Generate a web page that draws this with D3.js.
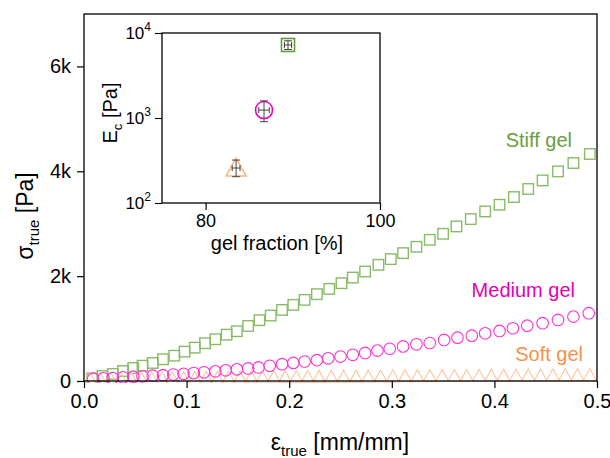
<!DOCTYPE html>
<html>
<head>
<meta charset="utf-8">
<script src="https://cdn.jsdelivr.net/npm/d3@7"></script>
<style>
  body { margin: 0; background: #fff; }
  svg { display: block; }
  text { font-family: "Liberation Sans", Arial, sans-serif; }
</style>
</head>
<body>
<svg id="chart" width="610" height="458"></svg>
<script>
// main plot: true stress vs true strain
const stiffStrain = [0.008, 0.018, 0.028, 0.038, 0.048, 0.057, 0.067, 0.077, 0.088, 0.098, 0.108, 0.118, 0.128, 0.139, 0.149, 0.160, 0.171, 0.182, 0.193, 0.204, 0.215, 0.227, 0.239, 0.251, 0.262, 0.274, 0.287, 0.299, 0.311, 0.324, 0.337, 0.350, 0.363, 0.377, 0.391, 0.405, 0.419, 0.433, 0.447, 0.462, 0.477, 0.493];
const stiffStress = [50, 95, 134, 191, 248, 292, 344, 414, 483, 560, 636, 720, 796, 884, 949, 1050, 1160, 1248, 1356, 1452, 1547, 1656, 1757, 1866, 1973, 2088, 2216, 2324, 2439, 2560, 2693, 2808, 2948, 3088, 3234, 3362, 3509, 3662, 3826, 3998, 4158, 4330];

const mediumStrain = [0.009, 0.019, 0.028, 0.038, 0.048, 0.057, 0.067, 0.077, 0.087, 0.097, 0.107, 0.117, 0.128, 0.138, 0.149, 0.160, 0.170, 0.181, 0.193, 0.204, 0.215, 0.227, 0.238, 0.250, 0.262, 0.274, 0.286, 0.298, 0.311, 0.324, 0.337, 0.351, 0.364, 0.378, 0.391, 0.405, 0.418, 0.432, 0.447, 0.462, 0.477, 0.492];
const mediumStress = [44, 52, 57, 70, 82, 90, 101, 112, 124, 136, 152, 166, 184, 203, 222, 240, 258, 290, 320, 345, 372, 398, 433, 466, 500, 535, 580, 615, 660, 700, 725, 783, 827, 865, 911, 955, 1006, 1056, 1102, 1165, 1228, 1293];

const softStrain = [0.006, 0.016, 0.026, 0.036, 0.046, 0.056, 0.066, 0.076, 0.086, 0.097, 0.108, 0.119, 0.130, 0.141, 0.152, 0.163, 0.174, 0.185, 0.196, 0.207, 0.218, 0.229, 0.241, 0.253, 0.265, 0.277, 0.289, 0.301, 0.313, 0.325, 0.337, 0.349, 0.361, 0.373, 0.385, 0.397, 0.409, 0.421, 0.433, 0.445, 0.457, 0.469, 0.481, 0.493];
const softStress = [45, 48, 50, 53, 55, 57, 60, 62, 64, 66, 68, 70, 72, 74, 76, 78, 80, 82, 83, 85, 87, 88, 90, 92, 93, 95, 97, 98, 100, 101, 103, 104, 106, 107, 109, 110, 112, 113, 115, 116, 118, 119, 121, 122];

const xTicks = [0, 0.1, 0.2, 0.3, 0.4, 0.5];
const xTickLabels = ["0.0", "0.1", "0.2", "0.3", "0.4", "0.5"];
const yTicks = [0, 2000, 4000, 6000];
const yTickLabels = ["0", "2k", "4k", "6k"];

// inset: compressive modulus vs gel fraction
const insetNames = ["Soft gel", "Medium gel", "Stiff gel"];
const gelFraction = [83.5, 86.7, 89.45];
const gelFractionErr = [0.45, 0.6, 0.4];
const modulus = [258, 1240, 7230];
const modulusLow = [204, 905, 6400];
const modulusHigh = [320, 1590, 8100];

const colors = {
  stiff: "#89bb66", stiffText: "#6a9e3f",
  medium: "#ff33d2", mediumText: "#e800b4",
  soft: "#ffc49c", softText: "#f7904a"
};

const svg = d3.select("#chart");
const M = { left: 84, right: 597, top: 14, bottom: 381 };

const x = d3.scaleLinear().domain([0, 0.5]).range([M.left, M.right]);
const y = d3.scaleLinear().domain([0, 7000]).range([M.bottom, M.top]);

// clip for data
svg.append("defs").append("clipPath").attr("id", "clip")
  .append("rect").attr("x", M.left).attr("y", M.top - 10)
  .attr("width", M.right - M.left + 2).attr("height", M.bottom - M.top + 12);

const data = g => g.attr("clip-path", "url(#clip)");

// stiff squares
const sq = 10.5;
svg.append("g").call(data).selectAll("rect")
  .data(d3.zip(stiffStrain, stiffStress))
  .enter().append("rect")
  .attr("x", d => x(d[0]) - sq / 2)
  .attr("y", d => y(d[1]) - sq / 2)
  .attr("width", sq).attr("height", sq)
  .attr("fill", "none")
  .attr("stroke", colors.stiff)
  .attr("stroke-width", 1.4);

// soft triangles
const tw = 13, th = 12;
svg.append("g").call(data).selectAll("path")
  .data(d3.zip(softStrain, softStress))
  .enter().append("path")
  .attr("d", d => {
    const cx = x(d[0]), cy = y(d[1]);
    return `M${cx},${cy - th / 2}L${cx + tw / 2},${cy + th / 2}L${cx - tw / 2},${cy + th / 2}Z`;
  })
  .attr("fill", "none")
  .attr("stroke", colors.soft)
  .attr("stroke-width", 1.1);

// medium circles
svg.append("g").call(data).selectAll("circle")
  .data(d3.zip(mediumStrain, mediumStress))
  .enter().append("circle")
  .attr("cx", d => x(d[0]))
  .attr("cy", d => y(d[1]))
  .attr("r", 5.8)
  .attr("fill", "none")
  .attr("stroke", colors.medium)
  .attr("stroke-width", 1.1);

// frame
svg.append("rect")
  .attr("x", M.left).attr("y", M.top)
  .attr("width", M.right - M.left).attr("height", M.bottom - M.top)
  .attr("fill", "none").attr("stroke", "#000").attr("stroke-width", 1.3);

// axes
const xAxis = svg.append("g").attr("transform", `translate(0,${M.bottom})`);
xAxis.call(d3.axisBottom(x).tickValues(d3.range(0, 0.501, 0.05)).tickSize(4).tickFormat(""));
xAxis.call(d3.axisBottom(x).tickValues(xTicks).tickSize(7)
  .tickFormat((d, i) => xTickLabels[i]).tickPadding(6));
xAxis.selectAll(".domain").remove();
xAxis.selectAll("line").attr("stroke", "#000").attr("stroke-width", 1.2);
xAxis.selectAll("text").attr("font-size", 20).attr("fill", "#000")
  .attr("font-family", "Liberation Sans, Arial, sans-serif");

const yAxis = svg.append("g").attr("transform", `translate(${M.left},0)`);
yAxis.call(d3.axisLeft(y).tickValues(d3.range(0, 7001, 500)).tickSize(4).tickFormat(""));
yAxis.call(d3.axisLeft(y).tickValues(yTicks).tickSize(7)
  .tickFormat((d, i) => yTickLabels[i]).tickPadding(6));
yAxis.selectAll(".domain").remove();
yAxis.selectAll("line").attr("stroke", "#000").attr("stroke-width", 1.2);
yAxis.selectAll("text").attr("font-size", 20).attr("fill", "#000")
  .attr("font-family", "Liberation Sans, Arial, sans-serif");

// axis titles
const xt = svg.append("text").attr("x", 340).attr("y", 450)
  .attr("text-anchor", "middle").attr("font-size", 23);
xt.append("tspan").text("ε");
xt.append("tspan").attr("font-size", 15).attr("dy", 6).text("true");
xt.append("tspan").attr("dy", -6).text(" [mm/mm]");

const yt = svg.append("text").attr("transform", "translate(33,216) rotate(-90)")
  .attr("text-anchor", "middle").attr("font-size", 23);
yt.append("tspan").text("σ");
yt.append("tspan").attr("font-size", 15).attr("dy", 6).text("true");
yt.append("tspan").attr("dy", -6).text(" [Pa]");

// series labels
svg.append("text").attr("x", 572).attr("y", 147).attr("text-anchor", "end")
  .attr("font-size", 20).attr("fill", colors.stiffText).text("Stiff gel");
svg.append("text").attr("x", 575).attr("y", 297).attr("text-anchor", "end")
  .attr("font-size", 20).attr("fill", colors.mediumText).text("Medium gel");
svg.append("text").attr("x", 583).attr("y", 361).attr("text-anchor", "end")
  .attr("font-size", 20).attr("fill", colors.softText).text("Soft gel");

// ---- inset ----
const I = { left: 162, right: 380, top: 33, bottom: 203 };
const ix = d3.scaleLinear().domain([75, 100]).range([I.left, I.right]);
const iy = d3.scaleLog().domain([100, 10000]).range([I.bottom, I.top]);

const inset = svg.append("g");
inset.append("rect")
  .attr("x", I.left).attr("y", I.top)
  .attr("width", I.right - I.left).attr("height", I.bottom - I.top)
  .attr("fill", "#fff").attr("stroke", "#000").attr("stroke-width", 1.3);

const ixAxis = inset.append("g").attr("transform", `translate(0,${I.bottom})`);
ixAxis.call(d3.axisBottom(ix).tickValues([90]).tickSize(5).tickFormat(""));
ixAxis.call(d3.axisBottom(ix).tickValues([80, 100]).tickSize(7).tickPadding(4));
ixAxis.selectAll(".domain").remove();
ixAxis.selectAll("line").attr("stroke", "#000").attr("stroke-width", 1.2);
ixAxis.selectAll("text").attr("font-size", 18).attr("fill", "#000")
  .attr("font-family", "Liberation Sans, Arial, sans-serif");

const minorLog = [200, 300, 400, 500, 600, 700, 800, 900, 2000, 3000, 4000, 5000, 6000, 7000, 8000, 9000];
const iyAxis = inset.append("g").attr("transform", `translate(${I.left},0)`);
iyAxis.call(d3.axisLeft(iy).tickValues(minorLog).tickSize(4).tickFormat(""));
iyAxis.call(d3.axisLeft(iy).tickValues([100, 1000, 10000]).tickSize(7).tickFormat(""));
iyAxis.selectAll(".domain").remove();
iyAxis.selectAll("line").attr("stroke", "#000").attr("stroke-width", 1.1);

[100, 1000, 10000].forEach(v => {
  const t = inset.append("text").attr("x", I.left - 11).attr("y", iy(v) + 6)
    .attr("text-anchor", "end").attr("font-size", 17);
  t.append("tspan").text("10");
  t.append("tspan").attr("font-size", 12).attr("dy", -8).text(String(Math.round(Math.log10(v))));
});

inset.append("text").attr("x", 277).attr("y", 250).attr("text-anchor", "middle")
  .attr("font-size", 20).text("gel fraction [%]");

const et = inset.append("text").attr("transform", "translate(117,113) rotate(-90)")
  .attr("text-anchor", "middle").attr("font-size", 20);
et.append("tspan").text("E");
et.append("tspan").attr("font-size", 13).attr("dy", 5).text("c");
et.append("tspan").attr("dy", -5).text(" [Pa]");

// inset markers
const ipts = d3.range(3).map(i => ({
  name: insetNames[i], gf: gelFraction[i], gfe: gelFractionErr[i],
  e: modulus[i], lo: modulusLow[i], hi: modulusHigh[i]
}));

ipts.forEach((p, i) => {
  const cx = ix(p.gf), cy = iy(p.e);
  if (i === 0) {
    inset.append("path")
      .attr("d", `M${cx},${cy - 10}L${cx + 10},${cy + 8}L${cx - 10},${cy + 8}Z`)
      .attr("fill", "none").attr("stroke", "#ffb27c").attr("stroke-width", 1.5);
  } else if (i === 1) {
    inset.append("circle").attr("cx", cx).attr("cy", cy).attr("r", 8.5)
      .attr("fill", "none").attr("stroke", "#f000c8").attr("stroke-width", 1.6);
  } else {
    inset.append("rect").attr("x", cx - 6.5).attr("y", cy - 6.5)
      .attr("width", 13).attr("height", 13)
      .attr("fill", "none").attr("stroke", "#5f9e3a").attr("stroke-width", 1.6);
  }
  const eb = inset.append("g").attr("stroke", "#444").attr("stroke-width", 1);
  const x0 = ix(p.gf - p.gfe), x1 = ix(p.gf + p.gfe);
  const y0 = iy(p.lo), y1 = iy(p.hi);
  eb.append("line").attr("x1", x0).attr("x2", x1).attr("y1", cy).attr("y2", cy);
  eb.append("line").attr("x1", x0).attr("x2", x0).attr("y1", cy - 3).attr("y2", cy + 3);
  eb.append("line").attr("x1", x1).attr("x2", x1).attr("y1", cy - 3).attr("y2", cy + 3);
  eb.append("line").attr("x1", cx).attr("x2", cx).attr("y1", y0).attr("y2", y1);
  eb.append("line").attr("x1", cx - 4).attr("x2", cx + 4).attr("y1", y0).attr("y2", y0);
  eb.append("line").attr("x1", cx - 4).attr("x2", cx + 4).attr("y1", y1).attr("y2", y1);
});
</script>
</body>
</html>
